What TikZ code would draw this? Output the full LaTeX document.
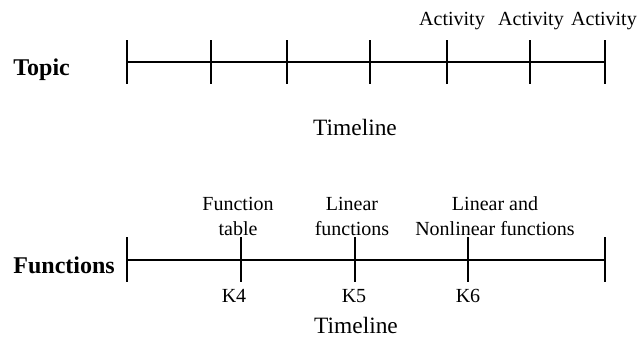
\documentclass[tikz,border=0pt]{standalone}
\usepackage{fontspec}
\setmainfont{Liberation Serif}
\tikzset{axis/.style={line width=0.8pt},
 lbl/.style={font=\fontsize{10}{12.5}\selectfont, inner sep=0pt, anchor=base, align=center},
 head/.style={font=\fontsize{12}{14}\selectfont\bfseries, inner sep=0pt, anchor=base west},
 timetext/.style={font=\fontsize{11.7}{14}\selectfont, inner sep=0pt, anchor=base},
 }

\begin{document}
\begin{tikzpicture}[x=0.5pt,y=-0.5pt]
        \useasboundingbox (0,0) rectangle (637,338);
        % topic timeline
        \node[head] (topic) at (13,75) {Topic};
        \coordinate (ts) at (127,62);
        \coordinate (te) at (605,62);
        \draw[axis] (ts) -- (te);
        \foreach \x[count=\i] in {127, 211, 287, 370, 447, 530, 605} {
            \coordinate (ta\i) at (\x, 40);
            \coordinate (tb\i) at (\x, 84);
            \draw[axis] (ta\i) -- (tb\i);
        }
        \foreach \x[count=\i] in {452, 531, 604} {
            \node[lbl] (act\i) at (\x, 25) {Activity};
        }
        \node[timetext] (tl1) at (355,135) {Timeline};
        % functions timeline
        \node[head] (func) at (13,273) {Functions};
        \coordinate (fs) at (127,260);
        \coordinate (fe) at (605,260);
        \draw[axis] (fs) -- (fe);
        \foreach \x[count=\i] in {127, 241, 355, 468, 605} {
            \coordinate (fa\i) at (\x, 237);
            \coordinate (fb\i) at (\x, 282);
            \draw[axis] (fa\i) -- (fb\i);
        }
        \node[lbl] (ft) at (238,235) {Function\\table};
        \node[lbl] (lf) at (352,235) {Linear\\functions};
        \node[lbl] (nf) at (495,235) {Linear and\\Nonlinear functions};
        \foreach \x/\k in {234/4, 354/5, 468/6} {
            \node[lbl] (k\k) at (\x, 302) {K\k};
        }
        \node[timetext] (tl2) at (356,333) {Timeline};
    \end{tikzpicture}
\end{document}
